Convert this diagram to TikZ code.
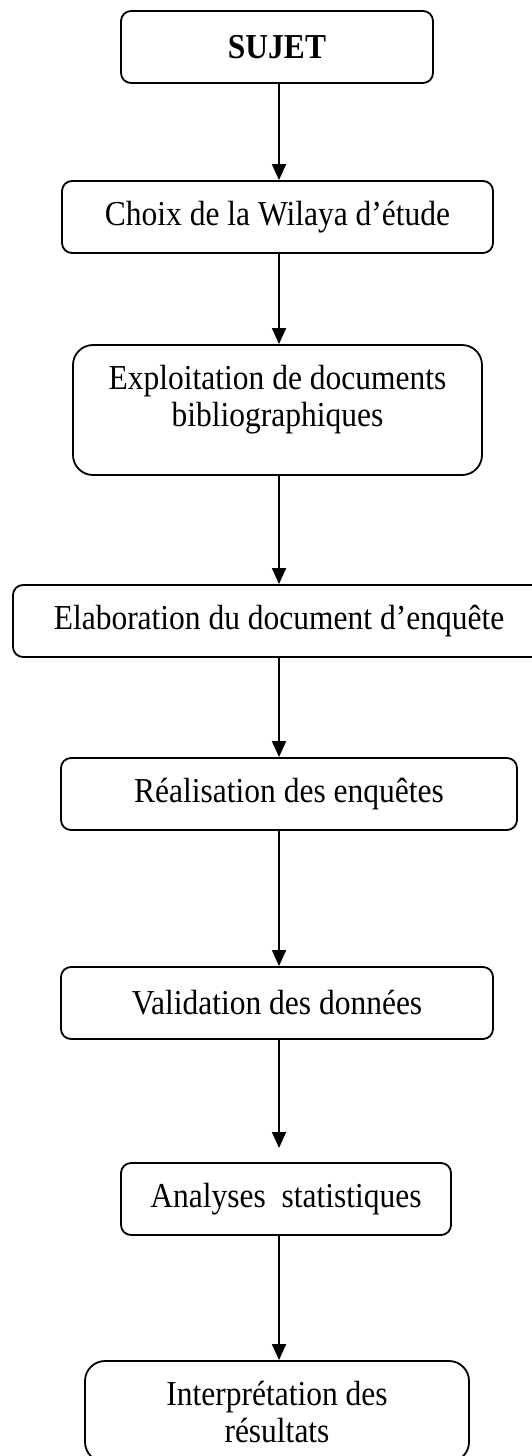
\documentclass[tikz,border=0pt]{standalone}
\usepackage{fontspec}
\setmainfont{Liberation Serif}[FakeStretch=0.9]
\usetikzlibrary{arrows.meta}

\begin{document}
\begin{tikzpicture}[x=1pt,y=-1pt,
  etape/.style={draw, line width=1.8pt, rounded corners=10pt, inner sep=0pt,
    align=center, font=\fontsize{35}{37}\selectfont},
  fleche/.style={line width=1.8pt, -{Triangle[length=16pt,width=14pt]}}]
\useasboundingbox (0,0) rectangle (531,1456);

% Etapes de la demarche
\node[etape, minimum width=312, minimum height=72] (sujet) at (277,47) {\bfseries SUJET};
\node[etape, minimum width=431, minimum height=72] (choix) at (277.5,217) {Choix de la Wilaya d’étude};
\node[etape, minimum width=409, minimum height=130, rounded corners=20pt,
  label={[name=expltxt, align=center, font=\fontsize{35}{37}\selectfont, yshift=10pt]center:Exploitation de documents\\bibliographiques}]
  (expl) at (277.5,410) {};
\node[etape, minimum width=532, minimum height=72] (elab) at (279,621) {Elaboration du document d’enquête};
\node[etape, minimum width=456, minimum height=72] (real) at (289,794) {Réalisation des enquêtes};
\node[etape, minimum width=432, minimum height=72] (valid) at (277,1003) {Validation des données};
\node[etape, minimum width=330, minimum height=72] (analyse) at (286,1199) {Analyses \ statistiques};
\node[etape, minimum width=384, minimum height=101, rounded corners=20pt] (interp) at (277,1411.5) {Interprétation des\\résultats};

% Fleches
\coordinate (axe) at (279,0);
\coordinate (validfin) at (279,1148);
\foreach \a/\b in {sujet/choix, choix/expl, expl/elab, elab/real, real/valid, analyse/interp}
  \draw[fleche] (\a.south -| axe) -- (\b.north -| axe);
\draw[fleche] (valid.south -| axe) -- (validfin);
\end{tikzpicture}
\end{document}
